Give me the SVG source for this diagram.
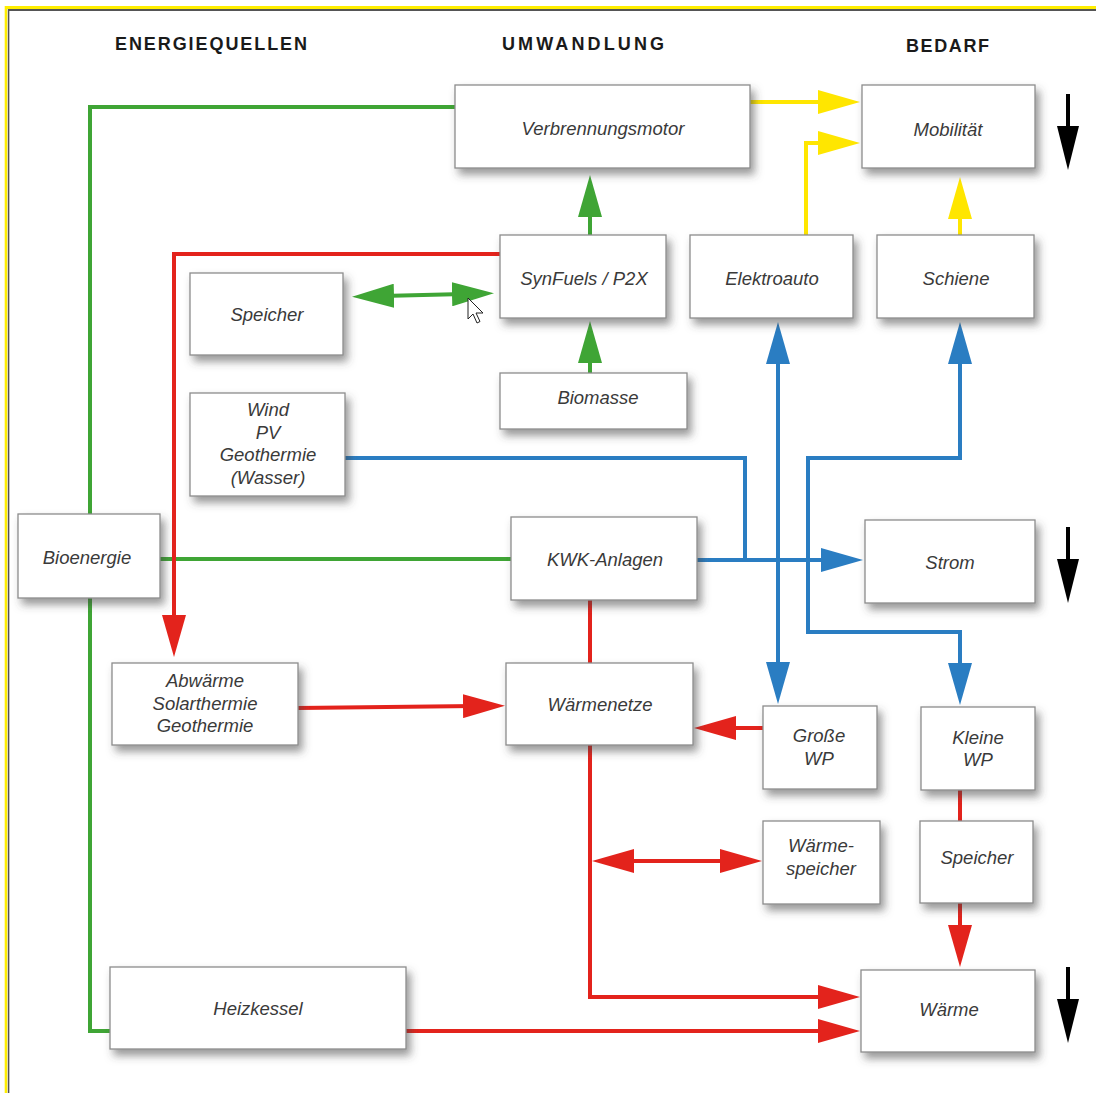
<svg xmlns="http://www.w3.org/2000/svg" width="1096" height="1093" viewBox="0 0 1096 1093">
<style>
.box{fill:#fff;stroke:#8c8c8c;stroke-width:1.3;filter:url(#sh)}
.lbl{font-family:"Liberation Sans",Arial,sans-serif;font-style:italic;font-size:18.5px;fill:#3a3a3a;text-anchor:middle}
.hdr{font-family:"Liberation Sans",Arial,sans-serif;font-weight:bold;font-size:18px;fill:#1a1a1a}
.c{fill:none;stroke-width:4;stroke-linejoin:miter}
.g{stroke:#3fa535}.y{stroke:#ffe600}.r{stroke:#e3231c}.b{stroke:#2a7dc2}.k{stroke:#000}
</style>
<defs>
<filter id="sh" x="-20%" y="-20%" width="150%" height="160%">
<feDropShadow dx="4" dy="6" stdDeviation="4" flood-color="#444" flood-opacity="0.55"/>
</filter>
<marker id="ag" markerUnits="userSpaceOnUse" markerWidth="42" markerHeight="24" refX="12" refY="12" orient="auto-start-reverse" viewBox="0 0 42 24"><path d="M0,0 L42,12 L0,24 z" fill="#3fa535"/></marker>
<marker id="ay" markerUnits="userSpaceOnUse" markerWidth="42" markerHeight="24" refX="12" refY="12" orient="auto-start-reverse" viewBox="0 0 42 24"><path d="M0,0 L42,12 L0,24 z" fill="#ffe600"/></marker>
<marker id="ar" markerUnits="userSpaceOnUse" markerWidth="42" markerHeight="24" refX="12" refY="12" orient="auto-start-reverse" viewBox="0 0 42 24"><path d="M0,0 L42,12 L0,24 z" fill="#e3231c"/></marker>
<marker id="ab" markerUnits="userSpaceOnUse" markerWidth="42" markerHeight="24" refX="12" refY="12" orient="auto-start-reverse" viewBox="0 0 42 24"><path d="M0,0 L42,12 L0,24 z" fill="#2a7dc2"/></marker>
<marker id="ak" markerUnits="userSpaceOnUse" markerWidth="44" markerHeight="22" refX="12" refY="11" orient="auto-start-reverse" viewBox="0 0 44 22"><path d="M0,0 L44,11 L0,22 z" fill="#000"/></marker>
</defs>
<rect width="1096" height="1093" fill="#fff"/>
<g id="frame">
<line x1="5" y1="7.5" x2="1096" y2="7.5" stroke="#ffee00" stroke-width="3"/>
<line x1="8" y1="10" x2="1096" y2="10" stroke="#555" stroke-width="1.8"/>
<line x1="6" y1="6" x2="6" y2="1093" stroke="#ffee00" stroke-width="2.6"/>
<line x1="8.6" y1="9" x2="8.6" y2="1093" stroke="#555" stroke-width="1.5"/>
</g>
<g id="headers">
<text class="hdr" x="115" y="50" textLength="192" lengthAdjust="spacing">ENERGIEQUELLEN</text>
<text class="hdr" x="502" y="50" textLength="162" lengthAdjust="spacing">UMWANDLUNG</text>
<text class="hdr" x="906" y="52" textLength="83" lengthAdjust="spacing">BEDARF</text>
</g>
<g id="connectors">
<path class="c g" d="M90,514 V107 H455"/>
<path class="c g" d="M90,598 V1031 H110"/>
<path class="c g" d="M160,559 H511"/>
<path class="c g" d="M590,235 V205" marker-end="url(#ag)"/>
<path class="c g" d="M590,373 V351" marker-end="url(#ag)"/>
<path class="c g" d="M382,296 L464,294" marker-start="url(#ag)" marker-end="url(#ag)"/>
<path class="c y" d="M750,102 H830" marker-end="url(#ay)"/>
<path class="c y" d="M806,235 V143 H830" marker-end="url(#ay)"/>
<path class="c y" d="M960,235 V207" marker-end="url(#ay)"/>
<path class="c r" d="M500,254 H174 V627" marker-end="url(#ar)"/>
<path class="c r" d="M298,708 L475,706" marker-end="url(#ar)"/>
<path class="c r" d="M590,600 V663"/>
<path class="c r" d="M763,728 H724" marker-end="url(#ar)"/>
<path class="c r" d="M590,745 V997 H830" marker-end="url(#ar)"/>
<path class="c r" d="M622,861 H732" marker-start="url(#ar)" marker-end="url(#ar)"/>
<path class="c r" d="M960,790 V821"/>
<path class="c r" d="M960,903 V937" marker-end="url(#ar)"/>
<path class="c r" d="M406,1031 H830" marker-end="url(#ar)"/>
<path class="c b" d="M345,458 H745 V560"/>
<path class="c b" d="M697,560 H833" marker-end="url(#ab)"/>
<path class="c b" d="M778,352 V674" marker-start="url(#ab)" marker-end="url(#ab)"/>
<path class="c b" d="M960,352 V458 H808 V632 H960 V675" marker-start="url(#ab)" marker-end="url(#ab)"/>
<path class="c k" d="M1068,94 V138" marker-end="url(#ak)"/>
<path class="c k" d="M1068,527 V571" marker-end="url(#ak)"/>
<path class="c k" d="M1068,967 V1011" marker-end="url(#ak)"/>
</g>
<g id="n-verbrennungsmotor"><rect class="box" x="455" y="85" width="295" height="83"/><text class="lbl" x="603" y="135">Verbrennungsmotor</text></g>
<g id="n-mobilitaet"><rect class="box" x="862" y="85" width="173" height="83"/><text class="lbl" x="948" y="136">Mobilität</text></g>
<g id="n-synfuels"><rect class="box" x="500" y="235" width="166" height="83"/><text class="lbl" x="584" y="285">SynFuels / P2X</text></g>
<g id="n-elektroauto"><rect class="box" x="690" y="235" width="163" height="83"/><text class="lbl" x="772" y="285">Elektroauto</text></g>
<g id="n-schiene"><rect class="box" x="877" y="235" width="157" height="83"/><text class="lbl" x="956" y="285">Schiene</text></g>
<g id="n-speicher-links"><rect class="box" x="190" y="273" width="153" height="82"/><text class="lbl" x="267" y="321">Speicher</text></g>
<g id="n-biomasse"><rect class="box" x="500" y="373" width="187" height="56"/><text class="lbl" x="598" y="404">Biomasse</text></g>
<g id="n-wind"><rect class="box" x="190" y="393" width="155" height="103"/><text class="lbl" x="268" y="416"><tspan x="268">Wind</tspan><tspan x="268" dy="22.5">PV</tspan><tspan x="268" dy="22.5">Geothermie</tspan><tspan x="268" dy="22.5">(Wasser)</tspan></text></g>
<g id="n-bioenergie"><rect class="box" x="18" y="514" width="142" height="84"/><text class="lbl" x="87" y="564">Bioenergie</text></g>
<g id="n-kwk"><rect class="box" x="511" y="517" width="186" height="83"/><text class="lbl" x="605" y="566">KWK-Anlagen</text></g>
<g id="n-strom"><rect class="box" x="865" y="520" width="170" height="83"/><text class="lbl" x="950" y="569">Strom</text></g>
<g id="n-abwaerme"><rect class="box" x="112" y="663" width="186" height="82"/><text class="lbl" x="205" y="687"><tspan x="205">Abwärme</tspan><tspan x="205" dy="22.5">Solarthermie</tspan><tspan x="205" dy="22.5">Geothermie</tspan></text></g>
<g id="n-waermenetze"><rect class="box" x="506" y="663" width="187" height="82"/><text class="lbl" x="600" y="711">Wärmenetze</text></g>
<g id="n-grosse-wp"><rect class="box" x="763" y="706" width="114" height="83"/><text class="lbl" x="819" y="742"><tspan x="819">Große</tspan><tspan x="819" dy="22.5">WP</tspan></text></g>
<g id="n-kleine-wp"><rect class="box" x="921" y="707" width="114" height="83"/><text class="lbl" x="978" y="744"><tspan x="978">Kleine</tspan><tspan x="978" dy="22">WP</tspan></text></g>
<g id="n-waermespeicher"><rect class="box" x="763" y="821" width="117" height="83"/><text class="lbl" x="821" y="852"><tspan x="821">Wärme-</tspan><tspan x="821" dy="23">speicher</tspan></text></g>
<g id="n-speicher-rechts"><rect class="box" x="920" y="821" width="113" height="82"/><text class="lbl" x="977" y="864">Speicher</text></g>
<g id="n-heizkessel"><rect class="box" x="110" y="967" width="296" height="82"/><text class="lbl" x="258" y="1015">Heizkessel</text></g>
<g id="n-waerme"><rect class="box" x="861" y="970" width="174" height="82"/><text class="lbl" x="949" y="1016">Wärme</text></g>
<g id="cursor"><path d="M468,298 v21 l5,-5 l4,9 l3,-1.5 l-4,-8.5 h7 z" fill="#fff" stroke="#222" stroke-width="1" stroke-linejoin="round"/></g>
</svg>
